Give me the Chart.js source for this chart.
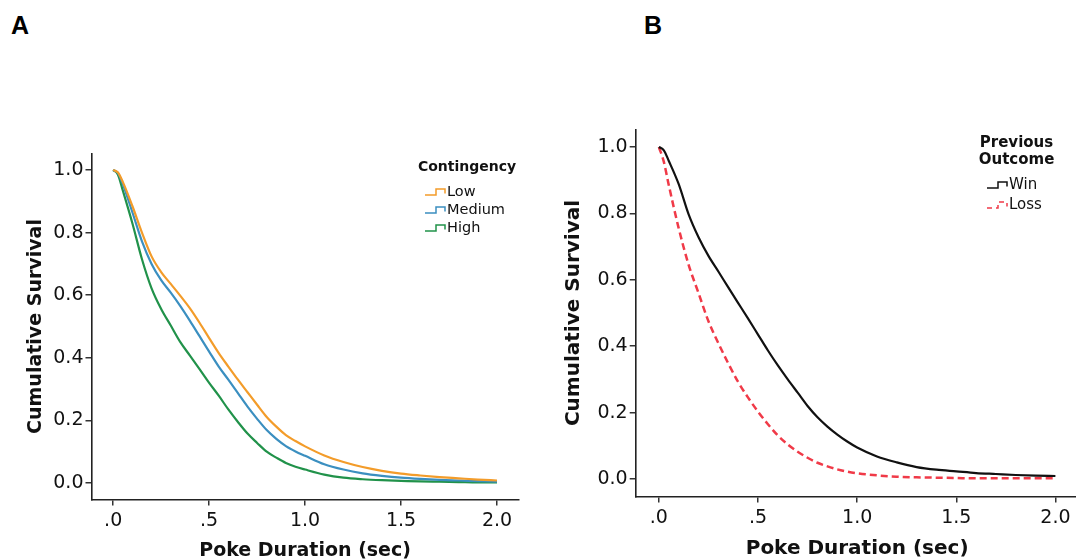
<!DOCTYPE html>
<html>
<head>
<meta charset="utf-8">
<script src="https://cdn.jsdelivr.net/npm/chart.js@4"></script>
<style>
  body { margin: 0; background: #fff; overflow: hidden; width: 1076px; height: 559px; position: relative; }
  .panel { position: absolute; top: 0; }
  .tag { position: absolute; top: 13px; font: bold 25px/25px "Liberation Sans", Arial, sans-serif; color: #000; }
</style>
</head>
<body>
<div class="tag" style="left:11px">A</div>
<div class="tag" style="left:644px">B</div>
<div class="panel" style="left:0px"><canvas id="chartA" width="540" height="580"></canvas></div>
<div class="panel" style="left:540px"><canvas id="chartB" width="545" height="580"></canvas></div>
<script>
const pokeTimes = [0, 0.025, 0.05, 0.1, 0.15, 0.2, 0.25, 0.3, 0.35, 0.4, 0.45, 0.5, 0.55, 0.6, 0.65, 0.7,
  0.75, 0.8, 0.85, 0.9, 0.95, 1.0, 1.1, 1.2, 1.3, 1.4, 1.5, 1.6, 1.7, 1.8, 1.9, 2.0];

// panel A - contingency
const lowSurvival = [1.0, .992, .962, .885, .80, .724, .674, .636, .598, .558, .512, .463, .415, .372, .330, .290,
  .250, .211, .180, .153, .134, .117, .088, .067, .051, .039, .030, .024, .019, .015, .011, .008];
const mediumSurvival = [1.0, .99, .955, .865, .772, .70, .648, .608, .565, .518, .469, .42, .372, .33, .287, .244,
  .205, .169, .141, .118, .101, .087, .060, .043, .031, .023, .017, .013, .010, .008, .006, .004];
const highSurvival = [1.0, .985, .935, .83, .715, .622, .556, .503, .45, .407, .364, .32, .279, .235, .195, .158,
  .128, .100, .081, .064, .052, .043, .027, .017, .012, .009, .007, .005, .004, .003, .002, .002];

// panel B - previous outcome
const winSurvival = [1.0, .99, .958, .888, .797, .728, .672, .625, .577, .53, .483, .435, .387, .342, .300, .26,
  .220, .186, .158, .134, .113, .095, .068, .050, .036, .028, .023, .018, .015, .012, .010, .009];
const lossSurvival = [1.0, .955, .885, .755, .645, .56, .475, .409, .348, .292, .245, .203, .165, .131, .104, .082,
  .064, .049, .038, .029, .022, .017, .011, .007, .005, .004, .003, .002, .002, .002, .002, .002];

const xTickValues = [0, 0.5, 1.0, 1.5, 2.0];
const xTickLabels = ['.0', '.5', '1.0', '1.5', '2.0'];
const yTickValues = [0, 0.2, 0.4, 0.6, 0.8, 1.0];
const yTickLabels = ['0.0', '0.2', '0.4', '0.6', '0.8', '1.0'];

Chart.defaults.font.family = "'DejaVu Sans', sans-serif";
Chart.defaults.color = '#111';

function points(values) {
  return pokeTimes.map((t, i) => ({ x: t, y: values[i] }));
}

// SPSS style legend: title on top, little step glyph before each label
const stepLegend = {
  id: 'stepLegend',
  afterDraw(chart, args, opts) {
    const ctx = chart.ctx;
    ctx.save();
    ctx.fillStyle = '#111';
    ctx.textBaseline = 'middle';
    ctx.textAlign = 'center';
    ctx.font = opts.titleFont;
    opts.title.forEach((line, i) => ctx.fillText(line, opts.titleX, opts.titleY + i * opts.titleGap));
    ctx.font = opts.itemFont;
    ctx.textAlign = 'left';
    chart.data.datasets.forEach((ds, i) => {
      const y = opts.itemY + i * opts.itemGap;
      const x = opts.iconX;
      ctx.strokeStyle = ds.borderColor;
      ctx.lineWidth = 1.5;
      ctx.setLineDash(ds.borderDash ? [5, 4] : []);
      ctx.beginPath();
      ctx.moveTo(x, y + 3);
      ctx.lineTo(x + 11, y + 3);
      ctx.lineTo(x + 11, y - 3);
      ctx.lineTo(x + 20, y - 3);
      ctx.lineTo(x + 20, y + 1.5);
      ctx.stroke();
      ctx.setLineDash([]);
      ctx.fillText(ds.label, x + 22, y);
    });
    ctx.restore();
  }
};

function makeOptions(p) {
  return {
    responsive: false,
    animation: false,
    devicePixelRatio: 1,
    layout: { padding: { top: p.padTop, right: p.padRight, left: 0, bottom: 0 } },
    plugins: { legend: { display: false }, tooltip: { enabled: false }, stepLegend: p.legend },
    elements: { point: { radius: 0 }, line: { tension: 0.35, cubicInterpolationMode: 'monotone' } },
    scales: {
      x: {
        type: 'linear', min: p.xMin, max: p.xMax,
        afterBuildTicks: s => { s.ticks = xTickValues.map(v => ({ value: v })); },
        afterFit: s => { s.height = p.xAxisHeight; },
        ticks: { font: { size: 19 }, padding: 4, maxRotation: 0, callback: (v, i) => xTickLabels[i] },
        grid: { drawOnChartArea: false, drawTicks: true, tickLength: 6, color: '#333', lineWidth: 1.5 },
        border: { color: '#222', width: 1.6 },
        title: { display: true, text: 'Poke Duration (sec)', font: { size: p.titleSize, weight: 'bold' },
          color: '#111', padding: { top: 0, bottom: p.xTitlePad } }
      },
      y: {
        type: 'linear', min: -0.053, max: 1.053,
        afterBuildTicks: s => { s.ticks = yTickValues.map(v => ({ value: v })); },
        afterFit: s => { s.width = p.yAxisWidth; },
        ticks: { font: { size: 19 }, padding: 2, callback: (v, i) => yTickLabels[i] },
        grid: { drawOnChartArea: false, drawTicks: true, tickLength: 6, color: '#333', lineWidth: 1.5 },
        border: { color: '#222', width: 1.6 },
        title: { display: true, text: 'Cumulative Survival', font: { size: p.titleSize, weight: 'bold' },
          color: '#111', padding: { top: p.yTitlePad, bottom: 0 } }
      }
    }
  };
}

new Chart(document.getElementById('chartA'), {
  type: 'line',
  data: {
    datasets: [
      { label: 'Low', data: points(lowSurvival), borderColor: '#F39C2A', borderWidth: 2.2 },
      { label: 'Medium', data: points(mediumSurvival), borderColor: '#3B8FC0', borderWidth: 2.2 },
      { label: 'High', data: points(highSurvival), borderColor: '#21924A', borderWidth: 2.2 }
    ]
  },
  options: makeOptions({
    xMin: -0.113, xMax: 2.113, padTop: 153.4, padRight: 21.3,
    yAxisWidth: 91.5, xAxisHeight: 80.4, titleSize: 19, yTitlePad: 24.6, xTitlePad: 17.6,
    legend: { title: ['Contingency'], titleFont: "bold 14px 'DejaVu Sans'", titleX: 467, titleY: 167, titleGap: 17,
      itemFont: "14.5px 'DejaVu Sans'", iconX: 425, itemY: 192, itemGap: 18 }
  }),
  plugins: [stepLegend]
});

new Chart(document.getElementById('chartB'), {
  type: 'line',
  data: {
    datasets: [
      { label: 'Win', data: points(winSurvival), borderColor: '#111111', borderWidth: 2.2 },
      { label: 'Loss', data: points(lossSurvival), borderColor: '#F03A48', borderWidth: 2.5, borderDash: [7, 4] }
    ]
  },
  options: makeOptions({
    xMin: -0.117, xMax: 2.117, padTop: 129.4, padRight: 6.4,
    yAxisWidth: 95.7, xAxisHeight: 83.4, titleSize: 20, yTitlePad: 22, xTitlePad: 19,
    legend: { title: ['Previous', 'Outcome'], titleFont: "bold 15px 'DejaVu Sans'", titleX: 476.5, titleY: 143, titleGap: 17,
      itemFont: "15px 'DejaVu Sans'", iconX: 447, itemY: 185, itemGap: 20 }
  }),
  plugins: [stepLegend]
});
</script>
</body>
</html>
